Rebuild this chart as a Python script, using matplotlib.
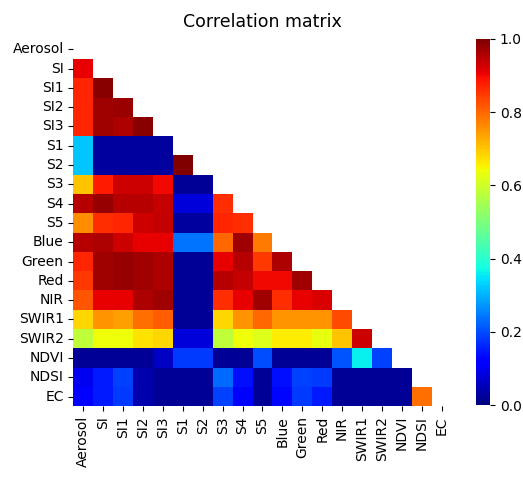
import numpy as np
import matplotlib
matplotlib.use('Agg')
import matplotlib.pyplot as plt
import seaborn as sns


# Variables (rows / columns of the matrix)
labels = ['Aerosol', 'SI', 'SI1', 'SI2', 'SI3', 'S1', 'S2', 'S3', 'S4', 'S5',
          'Blue', 'Green', 'Red', 'NIR', 'SWIR1', 'SWIR2', 'NDVI', 'NDSI', 'EC']

# Lower triangle (row i holds columns 0..i-1)
r_si    = [0.91]
r_si1   = [0.87, 0.99]
r_si2   = [0.87, 0.97, 0.975]
r_si3   = [0.87, 0.97, 0.96, 0.99]
r_s1    = [0.32, 0.03, 0.03, 0.03, 0.03]
r_s2    = [0.32, 0.03, 0.03, 0.03, 0.03, 1.00]
r_s3    = [0.70, 0.88, 0.93, 0.93, 0.90, 0.02, 0.02]
r_s4    = [0.95, 0.98, 0.95, 0.95, 0.94, 0.08, 0.08, 0.86]
r_s5    = [0.76, 0.86, 0.87, 0.93, 0.94, 0.03, 0.03, 0.87, 0.86]
r_blue  = [0.95, 0.96, 0.93, 0.91, 0.91, 0.24, 0.24, 0.80, 0.97, 0.78]
r_green = [0.87, 0.97, 0.98, 0.97, 0.96, 0.02, 0.02, 0.91, 0.95, 0.85, 0.96]
r_red   = [0.85, 0.97, 0.98, 0.97, 0.96, 0.02, 0.02, 0.95, 0.94, 0.90, 0.90, 0.97]
r_nir   = [0.82, 0.91, 0.91, 0.96, 0.97, 0.02, 0.02, 0.86, 0.91, 0.97, 0.86, 0.91, 0.92]
r_swir1 = [0.68, 0.75, 0.74, 0.79, 0.81, 0.02, 0.02, 0.68, 0.75, 0.80, 0.75, 0.75, 0.75, 0.83]
r_swir2 = [0.58, 0.64, 0.64, 0.67, 0.68, 0.08, 0.08, 0.58, 0.64, 0.62, 0.66, 0.66, 0.63, 0.70, 0.93]
r_ndvi  = [0.02, 0.02, 0.02, 0.02, 0.06, 0.18, 0.18, 0.02, 0.02, 0.20, 0.02, 0.02, 0.02, 0.21, 0.36, 0.19]
r_ndsi  = [0.10, 0.15, 0.19, 0.04, 0.02, 0.02, 0.02, 0.23, 0.14, 0.02, 0.14, 0.19, 0.18, 0.02, 0.02, 0.02, 0.02]
r_ec    = [0.11, 0.15, 0.18, 0.04, 0.02, 0.02, 0.02, 0.19, 0.12, 0.02, 0.13, 0.18, 0.15, 0.02, 0.02, 0.02, 0.02, 0.79]

lower = [[], r_si, r_si1, r_si2, r_si3, r_s1, r_s2, r_s3, r_s4, r_s5,
         r_blue, r_green, r_red, r_nir, r_swir1, r_swir2, r_ndvi, r_ndsi, r_ec]


#---------------------------------------------------------------------------
# Build the symmetric matrix
n = len(labels)
corr = np.eye(n)
for i, row in enumerate(lower):
    for j, v in enumerate(row):
        corr[i, j] = v
        corr[j, i] = v

mask = np.triu(np.ones_like(corr, dtype=bool))


#---------------------------------------------------------------------------
# Plot
fig = plt.figure(figsize=(5.23, 4.79), dpi=100)
ax  = fig.add_axes([0.1403, 0.1518, 0.7232, 0.7655])
cax = fig.add_axes([0.910, 0.1540, 0.027, 0.7650])

sns.heatmap(corr, mask=mask, cmap='jet', vmin=0, vmax=1,
            xticklabels=labels, yticklabels=labels,
            ax=ax, cbar_ax=cax)

ax.set_title('Correlation matrix', fontsize=12.5, pad=9)
ax.set_xticklabels(labels, rotation=90, fontsize=10)
ax.set_yticklabels(labels, rotation=0, fontsize=10)
cax.tick_params(labelsize=10)

fig.savefig('out.png', dpi=100)
